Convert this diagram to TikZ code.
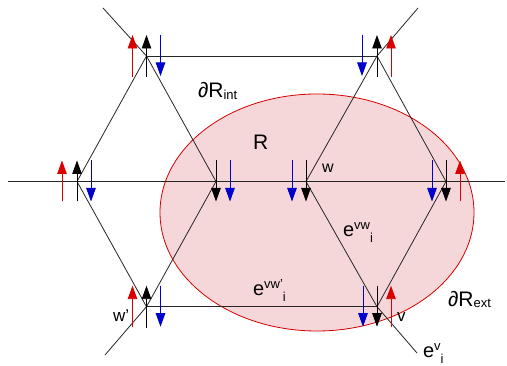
\documentclass[tikz,border=0pt]{standalone}
\usepackage{fontspec}
\setmainfont{Liberation Sans}
\usetikzlibrary{arrows.meta}
\definecolor{spinred}{RGB}{218,0,0}
\definecolor{spinblue}{RGB}{0,0,205}
\definecolor{regionfill}{RGB}{246,215,217}
\definecolor{regionline}{RGB}{212,0,0}
\begin{document}
\begin{tikzpicture}[x=1pt,y=-1pt,
  edge/.style={draw=black!85,line width=0.8pt},
  spin/.style={line width=0.9pt,-{Triangle[width=9.5pt,length=13.5pt]}},
  lbl/.style={inner sep=0pt,outer sep=0pt,anchor=base west,font=\fontsize{20}{24}\selectfont},
  small/.style={font=\fontsize{13}{15}\selectfont}]
\path[use as bounding box] (0,0) rectangle (507,366);
\path[fill=white] (0,0) rectangle (507,366);
% region R
\path[fill=regionfill,draw=regionline,line width=0.8pt] (317,212.5) ellipse [x radius=157,y radius=118.5];
% lattice sites
\coordinate (A) at (146.5,56);
\coordinate (B) at (377,56);
\coordinate (C) at (77,181.5);
\coordinate (D) at (216,181.5);
\coordinate (W) at (306,181.5);
\coordinate (E) at (446,181.5);
\coordinate (Wp) at (146.5,306.7);
\coordinate (V) at (377,306.7);
\coordinate (hl) at (8,181.5);
\coordinate (hr) at (505,181.5);
\coordinate (tl) at (103,8);
\coordinate (tr) at (418,8);
\coordinate (bl) at (105,355);
\coordinate (br) at (417,353);
% edges
\draw[edge] (hl) -- (hr);
\draw[edge] (A) -- (B);
\draw[edge] (Wp) -- (V);
\draw[edge] (tl) -- (A) -- (C) -- (Wp) -- (bl);
\draw[edge] (A) -- (D) -- (Wp);
\draw[edge] (tr) -- (B) -- (W) -- (V) -- (br);
\draw[edge] (B) -- (E) -- (V);
% spins: site/offset/colour/start/end
\foreach \v/\dx/\col/\ya/\yb in {A/-14/spinred/21/-21, A/0/black/21/-21, A/14/spinblue/-21/20,
  B/-15/spinblue/-21/20, B/0/black/21/-21, B/14/spinred/21/-21,
  C/-15/spinred/20/-21, C/0/black/20/-21, C/14/spinblue/-21/20,
  D/0/black/-21/20, D/14/spinblue/-21/20,
  W/-14/spinblue/-21/20, W/0/black/-21/20,
  E/-14/spinblue/-21/20, E/0/black/-21/20, E/14/spinred/20/-21,
  Wp/-14/spinred/20/-21, Wp/0/black/21/-21, Wp/14/spinblue/-21/20,
  V/-14/spinblue/-21/20, V/0/black/-21/20, V/14/spinred/20/-21}
  \draw[spin,draw=\col,fill=\col] ([shift={(\dx,\ya)}]\v) -- ([shift={(\dx,\yb)}]\v);
% labels
\node[lbl,font=\fontsize{21}{25}\selectfont] (lR) at (253,150) {R};
\node[lbl,font=\fontsize{21}{25}\selectfont] (lRint) at (198,98) {∂R\raisebox{-2pt}{\fontsize{13}{15}\selectfont int}};
\node[lbl,font=\fontsize{21}{25}\selectfont] (lRext) at (448,307) {∂R\raisebox{-1pt}{\fontsize{13}{15}\selectfont ext}};
\node[lbl,font=\fontsize{16}{19}\selectfont] (lw) at (322,173) {w};
\node[lbl,font=\fontsize{17}{20}\selectfont] (lwp) at (113,322) {w'};
\node[lbl,font=\fontsize{17}{20}\selectfont] (lv) at (397,322) {v};
\node[lbl] (levw) at (343,237) {e\raisebox{7pt}{\fontsize{13}{15}\selectfont vw}\raisebox{-6pt}{\fontsize{13}{15}\selectfont i}};
\node[lbl] (levwp) at (253,296) {e\raisebox{7pt}{\fontsize{13}{15}\selectfont vw'}\raisebox{-6pt}{\fontsize{13}{15}\selectfont i}};
\node[lbl] (lev) at (423,358) {e\raisebox{7pt}{\fontsize{13}{15}\selectfont v}\raisebox{-6pt}{\fontsize{13}{15}\selectfont i}};
\end{tikzpicture}
\end{document}
